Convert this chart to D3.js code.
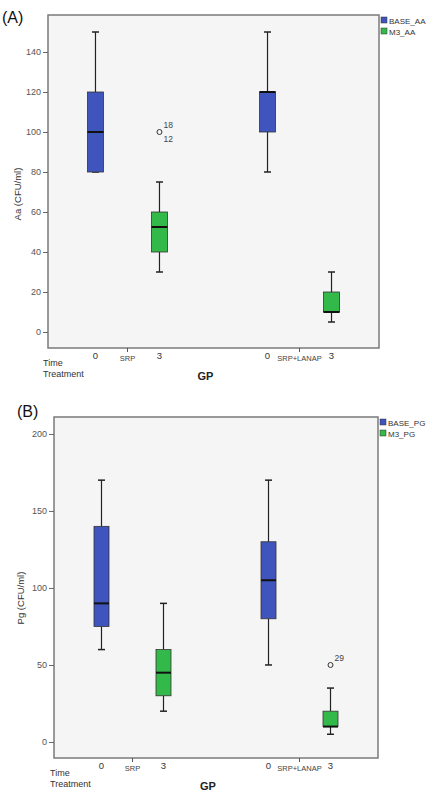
<!DOCTYPE html>
<html><head><meta charset="utf-8">
<script src="https://cdn.jsdelivr.net/npm/d3@7"></script>
<style>body{margin:0;background:#fff;}svg{display:block;font-family:"Liberation Sans",Arial,sans-serif;}</style>
</head><body>
<svg id="c" width="440" height="796"></svg>
<script>
const groups = ["SRP", "SRP+LANAP"];
const times = ["0", "3"];
const series = ["BASE", "M3"];

// Panel A: Aa (CFU/ml)  order: SRP-0, SRP-3, LANAP-0, LANAP-3
const aaMin = [80, 30, 80, 5];
const aaQ1  = [80, 40, 100, 10];
const aaMed = [100, 52.5, 120, 10];
const aaQ3  = [120, 60, 120, 20];
const aaMax = [150, 75, 150, 30];
const aaOutliers = [{box: 1, value: 100, labels: ["18", "12"]}];
const aaTicks = [0, 20, 40, 60, 80, 100, 120, 140];
const aaLegend = ["BASE_AA", "M3_AA"];

// Panel B: Pg (CFU/ml)
const pgMin = [60, 20, 50, 5];
const pgQ1  = [75, 30, 80, 10];
const pgMed = [90, 45, 105, 10];
const pgQ3  = [140, 60, 130, 20];
const pgMax = [170, 90, 170, 35];
const pgOutliers = [{box: 3, value: 50, labels: ["29"]}];
const pgTicks = [0, 50, 100, 150, 200];
const pgLegend = ["BASE_PG", "M3_PG"];

const colors = {"BASE": "#3f55bd", "M3": "#33b94a"};
const svg = d3.select("#c");

function panel(o) {
  const g = svg.append("g");
  const {L, R, T, B} = o;
  const y = d3.scaleLinear().domain(o.domain).range([B, T]);
  const xg = d3.scalePoint().domain(groups).range([L, R]).padding(o.pad);
  const xt = d3.scalePoint().domain(times).range([-o.off, o.off]);

  g.append("text").attr("x", o.tagX).attr("y", o.tagY).attr("font-size", 16).attr("fill", "#111").text(o.tag);

  g.append("rect").attr("x", L).attr("y", T).attr("width", R - L).attr("height", B - T)
    .attr("fill", "#f5f5f5").attr("stroke", "#7a7a7a").attr("stroke-width", 1.5);

  // y axis
  const ya = g.append("g").attr("transform", `translate(${L},0)`)
    .call(d3.axisLeft(y).tickValues(o.ticks).tickSize(5).tickSizeOuter(0).tickPadding(2));
  ya.select(".domain").remove();
  ya.selectAll(".tick line").attr("stroke", "#666");
  ya.selectAll(".tick text").attr("font-size", 9).attr("fill", "#555").attr("font-family", "Liberation Sans, Arial, sans-serif");

  g.append("text").attr("transform", `translate(${o.ylabX},${o.ylabY}) rotate(-90)`)
    .attr("text-anchor", "middle").attr("font-size", 9.5).attr("fill", "#333").text(o.ylab);

  // boxes
  const boxes = [];
  groups.forEach((gr, gi) => times.forEach((t, ti) => {
    const i = gi * 2 + ti;
    boxes.push({gr, t, s: series[ti], min: o.min[i], q1: o.q1[i], med: o.med[i], q3: o.q3[i], max: o.max[i]});
  }));
  const bw = o.bw, cw = 7;
  boxes.forEach(b => {
    const cx = xg(b.gr) + xt(b.t);
    const bg = g.append("g");
    bg.append("line").attr("x1", cx).attr("x2", cx).attr("y1", y(b.max)).attr("y2", y(b.q3)).attr("stroke", "#222").attr("stroke-width", 1.2);
    bg.append("line").attr("x1", cx).attr("x2", cx).attr("y1", y(b.q1)).attr("y2", y(b.min)).attr("stroke", "#222").attr("stroke-width", 1.2);
    bg.append("line").attr("x1", cx - cw / 2).attr("x2", cx + cw / 2).attr("y1", y(b.max)).attr("y2", y(b.max)).attr("stroke", "#222").attr("stroke-width", 1.5);
    bg.append("line").attr("x1", cx - cw / 2).attr("x2", cx + cw / 2).attr("y1", y(b.min)).attr("y2", y(b.min)).attr("stroke", "#222").attr("stroke-width", 1.5);
    bg.append("rect").attr("x", cx - bw / 2).attr("y", y(b.q3)).attr("width", bw).attr("height", Math.max(0.5, y(b.q1) - y(b.q3)))
      .attr("fill", colors[b.s]).attr("stroke", "#333").attr("stroke-width", 0.8);
    bg.append("line").attr("x1", cx - bw / 2).attr("x2", cx + bw / 2).attr("y1", y(b.med)).attr("y2", y(b.med)).attr("stroke", "#111").attr("stroke-width", 2);
  });

  // outliers
  o.outliers.forEach(ol => {
    const b = boxes[ol.box];
    const cx = xg(b.gr) + xt(b.t), cy = y(ol.value);
    g.append("circle").attr("cx", cx).attr("cy", cy).attr("r", 2.5).attr("fill", "none").attr("stroke", "#333").attr("stroke-width", 1);
    if (ol.labels.length === 2) {
      g.append("text").attr("x", cx + 4).attr("y", cy - 4).attr("font-size", 8.5).attr("fill", "#444").text(ol.labels[0]);
      g.append("text").attr("x", cx + 4).attr("y", cy + 10).attr("font-size", 8.5).attr("fill", "#444").text(ol.labels[1]);
    } else {
      g.append("text").attr("x", cx + 4).attr("y", cy - 4).attr("font-size", 8.5).attr("fill", "#444").text(ol.labels[0]);
    }
  });

  // x labels
  groups.forEach(gr => {
    const gx = xg(gr);
    g.append("line").attr("x1", gx).attr("x2", gx).attr("y1", B).attr("y2", B + 4).attr("stroke", "#555");
    g.append("text").attr("x", gx).attr("y", B + 13).attr("text-anchor", "middle").attr("font-size", 7.5).attr("fill", "#444").text(gr);
    times.forEach(t => {
      g.append("text").attr("x", gx + xt(t)).attr("y", B + 11).attr("text-anchor", "middle").attr("font-size", 9.5).attr("fill", "#333").text(t);
    });
  });
  g.append("text").attr("x", o.timeX).attr("y", B + 18).attr("font-size", 9).attr("fill", "#333").text("Time");
  g.append("text").attr("x", o.timeX).attr("y", B + 29).attr("font-size", 9).attr("fill", "#333").text("Treatment");
  g.append("text").attr("x", (L + R) / 2 + o.gpDx).attr("y", B + 32).attr("text-anchor", "middle").attr("font-size", 11).attr("font-weight", "bold").attr("fill", "#222").text("GP");

  // legend
  o.legend.forEach((lab, i) => {
    g.append("rect").attr("x", R + 2).attr("y", T + 2 + i * 11).attr("width", 6).attr("height", 6)
      .attr("fill", colors[series[i]]).attr("stroke", "#333").attr("stroke-width", 0.5);
    g.append("text").attr("x", R + 10).attr("y", T + 8.5 + i * 11).attr("font-size", 8).attr("fill", "#333").text(lab);
  });
}

panel({L: 48, R: 379, T: 15, B: 348, domain: [-8, 158.5], pad: 0.462, off: 32, bw: 16,
  min: aaMin, q1: aaQ1, med: aaMed, q3: aaQ3, max: aaMax, outliers: aaOutliers, ticks: aaTicks,
  legend: aaLegend, ylab: "Aa (CFU/ml)", ylabX: 21, ylabY: 194, tag: "(A)", tagX: 2, tagY: 23, timeX: 43, gpDx: -8});

panel({L: 54, R: 378, T: 417, B: 758, domain: [-10.4, 211], pad: 0.47, off: 31, bw: 15,
  min: pgMin, q1: pgQ1, med: pgMed, q3: pgQ3, max: pgMax, outliers: pgOutliers, ticks: pgTicks,
  legend: pgLegend, ylab: "Pg (CFU/ml)", ylabX: 24, ylabY: 598, tag: "(B)", tagX: 17, tagY: 417, timeX: 50, gpDx: -8});
</script>
</body></html>
